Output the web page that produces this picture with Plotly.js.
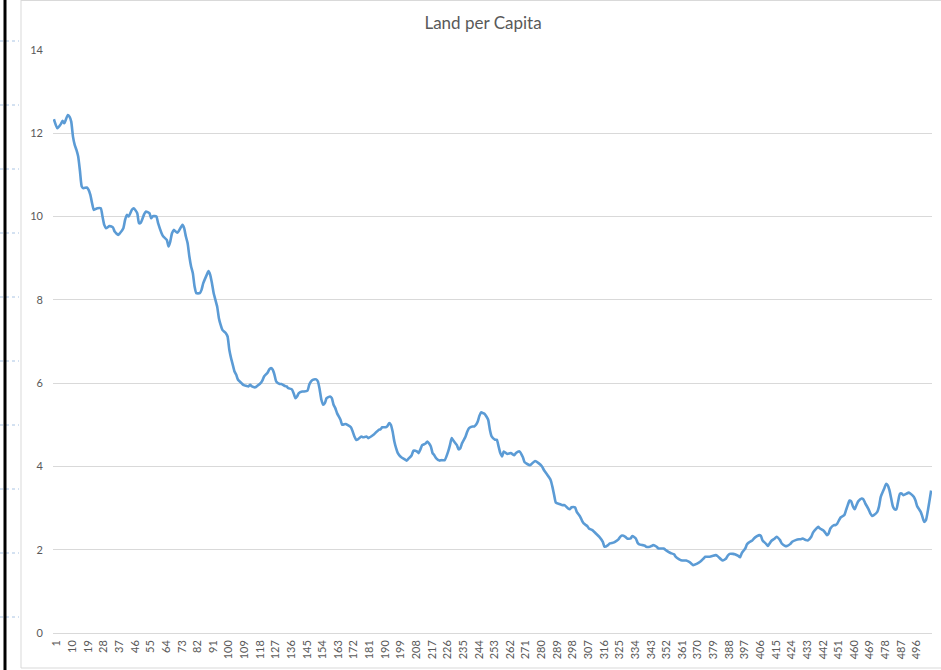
<!DOCTYPE html>
<html>
<head>
<meta charset="utf-8">
<script src="https://cdn.plot.ly/plotly-3.0.1.min.js"></script>
<style>
  html, body { margin: 0; padding: 0; background: #ffffff; }
  #chart { width: 941px; height: 670px; }
</style>
</head>
<body>
<div id="chart"></div>
<script>
// Category index (x) of each sampled point
const period = [
  1,3,5,6,7,9,10,11,12,13,14,15,16,17,18,20,21,22,23,24,26,28,29,30,31,33,35,36,38,39,
  41,42,43,44,46,47,49,50,51,53,54,56,57,58,60,61,63,64,66,67,68,69,70,72,73,75,76,77,78,79,
  80,81,82,83,85,86,87,89,90,91,92,93,94,95,96,97,98,100,101,102,103,104,105,106,107,109,110,112,113,114,
  115,117,118,120,121,122,124,125,126,127,128,129,131,132,134,135,136,138,139,140,141,142,144,145,147,148,149,150,152,153,
  154,155,156,157,158,160,161,162,163,164,166,167,169,170,172,173,174,175,176,178,179,181,182,184,185,186,188,189,190,192,
  193,194,195,196,197,198,199,200,201,203,204,205,207,208,210,211,212,213,215,216,218,219,220,221,223,224,225,226,228,229,
  230,231,233,234,235,236,238,239,240,242,243,244,245,246,247,248,249,250,251,252,253,255,256,257,258,259,260,262,264,266,
  267,269,271,272,275,276,278,280,282,283,285,287,288,289,290,292,294,295,297,298,299,301,302,304,305,306,308,309,311,313,
  315,317,318,320,321,323,324,326,327,328,330,331,333,334,336,337,338,340,341,342,344,345,346,348,349,351,352,353,355,356,
  358,359,361,362,364,365,367,369,371,373,375,376,378,380,382,383,385,386,388,389,390,392,393,395,396,397,399,400,401,403,
  404,406,407,408,409,411,412,413,414,416,417,419,420,422,423,425,426,428,430,431,432,434,435,437,438,440,441,442,444,445,
  446,447,448,450,451,452,453,454,456,457,458,459,460,461,462,463,464,466,467,468,470,471,472,473,475,476,477,479,480,481,
  482,483,484,485,486,487,488,489,490,492,493,494,496,497,498,500,501,502,503,504,505,506
];

// Land per capita value at each sampled point
const landPerCapita = [
  12.34,12.12,12.22,12.30,12.24,12.44,12.40,12.28,11.92,11.72,11.60,11.44,11.10,10.73,10.68,10.70,10.64,10.52,10.32,10.16,10.20,10.20,10.00,9.80,9.72,9.77,9.74,9.64,9.56,9.60,
  9.72,9.92,10.04,10.00,10.17,10.20,10.08,9.84,9.85,10.06,10.12,10.08,9.96,10.01,10.00,9.84,9.60,9.52,9.44,9.28,9.40,9.60,9.68,9.61,9.66,9.80,9.72,9.52,9.36,9.04,
  8.80,8.64,8.32,8.16,8.16,8.24,8.40,8.60,8.69,8.60,8.40,8.16,8.00,7.84,7.56,7.40,7.28,7.20,7.12,6.80,6.60,6.44,6.28,6.20,6.08,6.00,5.96,5.93,5.92,5.96,
  5.92,5.90,5.93,6.00,6.06,6.16,6.25,6.33,6.36,6.32,6.20,6.04,5.98,5.98,5.93,5.92,5.88,5.85,5.76,5.64,5.68,5.76,5.80,5.80,5.82,5.96,6.04,6.08,6.09,6.04,
  5.85,5.60,5.48,5.52,5.64,5.68,5.64,5.48,5.40,5.28,5.12,5.00,5.02,5.00,4.94,4.84,4.72,4.64,4.65,4.72,4.70,4.72,4.68,4.73,4.76,4.80,4.88,4.89,4.94,4.94,
  4.97,5.04,5.00,4.84,4.60,4.44,4.32,4.26,4.22,4.17,4.14,4.18,4.27,4.38,4.36,4.32,4.41,4.51,4.55,4.60,4.48,4.32,4.27,4.20,4.14,4.15,4.15,4.15,4.36,4.51,
  4.68,4.62,4.51,4.41,4.44,4.56,4.72,4.84,4.92,4.96,4.96,5.00,5.08,5.22,5.30,5.28,5.26,5.20,5.12,4.88,4.72,4.64,4.64,4.48,4.32,4.24,4.36,4.30,4.32,4.27,
  4.32,4.36,4.22,4.10,4.03,4.06,4.13,4.08,4.00,3.92,3.80,3.67,3.51,3.31,3.13,3.10,3.07,3.07,2.99,2.97,3.02,3.02,2.91,2.79,2.70,2.63,2.57,2.51,2.47,2.39,
  2.31,2.19,2.07,2.11,2.15,2.17,2.19,2.25,2.31,2.34,2.31,2.27,2.27,2.33,2.27,2.17,2.13,2.11,2.10,2.07,2.07,2.09,2.11,2.07,2.03,2.03,2.03,2.00,1.94,1.92,
  1.89,1.83,1.77,1.75,1.74,1.74,1.70,1.63,1.66,1.71,1.79,1.83,1.83,1.85,1.87,1.85,1.77,1.74,1.79,1.86,1.90,1.90,1.89,1.85,1.82,1.92,2.03,2.13,2.17,2.22,
  2.27,2.33,2.35,2.33,2.22,2.14,2.09,2.15,2.21,2.27,2.31,2.23,2.15,2.09,2.09,2.14,2.19,2.23,2.25,2.25,2.27,2.23,2.22,2.31,2.41,2.51,2.55,2.51,2.46,2.41,
  2.35,2.39,2.51,2.59,2.59,2.63,2.71,2.78,2.83,2.95,3.07,3.18,3.16,3.04,2.97,3.07,3.16,3.23,3.21,3.12,2.97,2.87,2.81,2.83,2.91,3.04,3.27,3.47,3.58,3.55,
  3.43,3.23,3.04,2.97,2.97,3.16,3.34,3.35,3.31,3.35,3.37,3.35,3.27,3.18,3.04,2.91,2.79,2.67,2.71,2.91,3.16,3.42
];

// Category tick labels shown on the x axis
const tickLabels = [1,10,19,28,37,46,55,64,73,82,91,100,109,118,127,136,145,154,163,172,181,190,199,208,217,226,235,244,253,262,
  271,280,289,298,307,316,325,334,343,352,361,370,379,388,397,406,415,424,433,442,451,460,469,478,487,496];

const yTicks = [0,2,4,6,8,10,12,14];
const chartTitle = "Land per Capita";

const W = 941, H = 670;
const M = {l: 53, r: 9, t: 50, b: 37};
const pw = W - M.l - M.r, ph = H - M.t - M.b;
const px = x => (x - M.l) / pw;
const py = y => (H - M.b - y) / ph;

const shapes = [];
// frame of the embedded chart object
shapes.push({type:'line', xref:'paper', yref:'paper', x0:px(21), x1:px(21), y0:py(0), y1:py(668), line:{color:'#d9d9d9', width:1}});
shapes.push({type:'line', xref:'paper', yref:'paper', x0:px(21), x1:px(941), y0:py(0.5), y1:py(0.5), line:{color:'#d9d9d9', width:1}});
shapes.push({type:'line', xref:'paper', yref:'paper', x0:px(21), x1:px(941), y0:py(668), y1:py(668), line:{color:'#d9d9d9', width:1}});
// small marks in the left margin
[41,105,169,233,297,361,425,489,553,617].forEach(y => {
  shapes.push({type:'line', xref:'paper', yref:'paper', x0:px(0), x1:px(19), y0:py(y), y1:py(y), line:{color:'#a9c4e4', width:1, dash:'dot'}});
});
// black bar at far left
shapes.push({type:'line', xref:'paper', yref:'paper', x0:px(5), x1:px(5), y0:py(0), y1:py(670), line:{color:'#000000', width:3}});

const trace = {
  x: period,
  y: landPerCapita,
  type: 'scatter',
  mode: 'lines',
  line: {color: '#5b9bd5', width: 2.6, shape: 'spline', smoothing: 0.5},
  hoverinfo: 'skip'
};

const layout = {
  width: W, height: H,
  margin: M,
  paper_bgcolor: '#ffffff',
  plot_bgcolor: '#ffffff',
  showlegend: false,
  font: {family: 'Lato, "Open Sans", sans-serif', color: '#595959'},
  title: {
    text: chartTitle,
    font: {family: 'Lato, "Open Sans", sans-serif', size: 17, color: '#595959'},
    x: 483 / W, xref: 'container', xanchor: 'center',
    y: 1 - 23 / H, yref: 'container', yanchor: 'middle'
  },
  xaxis: {
    type: 'linear',
    range: [0.5, 506.5],
    tickmode: 'array',
    tickvals: tickLabels,
    ticktext: tickLabels.map(String),
    tickangle: -90,
    tickfont: {size: 11, color: '#595959'},
    showgrid: false, zeroline: false, showline: false,
    ticks: '', ticklabelstandoff: 4, ticklabelshift: 3,
    fixedrange: true
  },
  yaxis: {
    range: [0, 14],
    tickmode: 'array',
    tickvals: yTicks,
    tickfont: {size: 11, color: '#595959'},
    showgrid: true, gridcolor: '#d9d9d9', gridwidth: 1,
    zeroline: true, zerolinecolor: '#d9d9d9', zerolinewidth: 1,
    showline: false, ticks: '', ticklabelstandoff: 9,
    fixedrange: true
  },
  shapes: shapes
};

Plotly.newPlot('chart', [trace], layout, {displayModeBar: false, staticPlot: true});
</script>
</body>
</html>
